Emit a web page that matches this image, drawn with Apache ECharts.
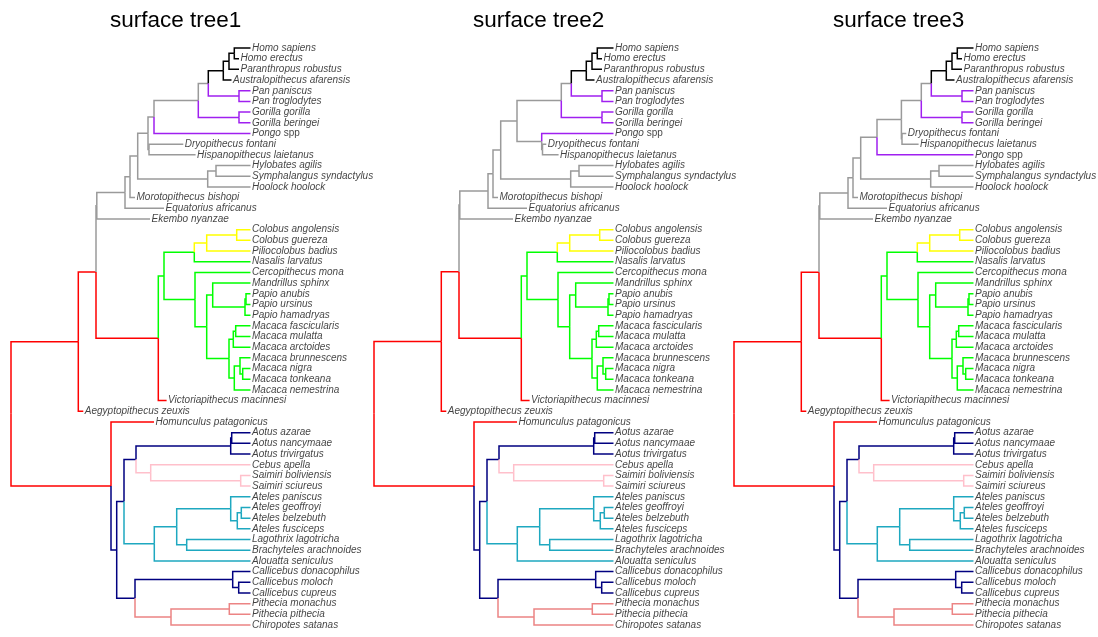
<!DOCTYPE html>
<html><head><meta charset="utf-8">
<script src="https://cdn.jsdelivr.net/npm/echarts/dist/echarts.min.js"></script>
<style>html,body{margin:0;padding:0;background:#fff}#c{width:1098px;height:637px}</style>
</head><body><div id="c"></div><script>
// ---------------- data ----------------
const treeTitles = ["surface tree1", "surface tree2", "surface tree3"];
const extantDepth = 239.5;
// fossil tip depths (distance from root, same units as node depths)
const fossilTipDepth = {
  "Homo erectus": 228, "Paranthropus robustus": 228, "Australopithecus afarensis": 220.5,
  "Dryopithecus fontani": 172.3, "Hispanopithecus laietanus": 184.6,
  "Morotopithecus bishopi": 124, "Equatorius africanus": 153, "Ekembo nyanzae": 139,
  "Victoriapithecus macinnesi": 155.6, "Aegyptopithecus zeuxis": 72.3, "Homunculus patagonicus": 143
};
// internal nodes shared by all trees: [name, depth, children (top to bottom)]
const sharedNodes = [
  ["root", 0, ["n78", "n111"]],
  ["n78", 67.3, ["Catarrhini", "Aegyptopithecus zeuxis"]],
  ["Catarrhini", 85, ["nEkembo", "Cercopithecoidea"]],
  ["nEkembo", 85.8, ["n125", "Ekembo nyanzae"]],
  ["n125", 114, ["n130", "Equatorius africanus"]],
  ["n130", 119, ["Hominoidea", "Morotopithecus bishopi"]],
  ["Hominoidea", 126.7, ["GreatApes", "Hylobatidae"]],
  ["Hylobatidae", 196.7, ["nHylSym", "Hoolock hoolock"]],
  ["nHylSym", 205, ["Hylobates agilis", "Symphalangus syndactylus"]],
  ["Homininae", 187.3, ["nHP", "Gorilla"]],
  ["nHP", 197.3, ["Hominini", "Pan"]],
  ["Hominini", 212.3, ["nHHP", "Australopithecus afarensis"]],
  ["nHHP", 218, ["Homo", "Paranthropus robustus"]],
  ["Homo", 223.3, ["Homo sapiens", "Homo erectus"]],
  ["Pan", 228, ["Pan paniscus", "Pan troglodytes"]],
  ["Gorilla", 228, ["Gorilla gorilla", "Gorilla beringei"]],
  ["Cercopithecoidea", 147.3, ["Cercopithecidae", "Victoriapithecus macinnesi"]],
  ["Cercopithecidae", 153, ["Colobinae", "Cercopithecinae"]],
  ["Colobinae", 183.3, ["nColPil", "Nasalis larvatus"]],
  ["nColPil", 195.7, ["Colobus", "Piliocolobus badius"]],
  ["Colobus", 225.7, ["Colobus angolensis", "Colobus guereza"]],
  ["Cercopithecinae", 184, ["Cercopithecus mona", "Papionini"]],
  ["Papionini", 195.7, ["nMandPapio", "Macaca"]],
  ["nMandPapio", 201.7, ["Mandrillus sphinx", "Papio"]],
  ["Papio", 234, ["nPapio", "Papio hamadryas"]],
  ["nPapio", 235, ["Papio anubis", "Papio ursinus"]],
  ["Macaca", 218, ["nMac1", "nMac2"]],
  ["nMac1", 222.3, ["nMacFM", "Macaca arctoides"]],
  ["nMacFM", 224.7, ["Macaca fascicularis", "Macaca mulatta"]],
  ["nMac2", 223.3, ["nMacBNT", "Macaca nemestrina"]],
  ["nMacBNT", 229, ["Macaca brunnescens", "nMacNT"]],
  ["nMacNT", 231.7, ["Macaca nigra", "Macaca tonkeana"]],
  ["n111", 100, ["Homunculus patagonicus", "Platyrrhini"]],
  ["Platyrrhini", 105.7, ["nCebAtel", "Pitheciidae"]],
  ["nCebAtel", 113, ["Cebidae", "Atelidae"]],
  ["Cebidae", 125, ["Aotus", "Cebinae"]],
  ["Aotus", 219.7, ["nAotus", "Aotus trivirgatus"]],
  ["nAotus", 220.7, ["Aotus azarae", "Aotus nancymaae"]],
  ["Cebinae", 139.7, ["Cebus apella", "Saimiri"]],
  ["Saimiri", 229.7, ["Saimiri boliviensis", "Saimiri sciureus"]],
  ["Atelidae", 143.3, ["Atelinae", "Alouatta seniculus"]],
  ["Atelinae", 165.7, ["Ateles", "nLagoBrachy"]],
  ["nLagoBrachy", 175.7, ["Lagothrix lagotricha", "Brachyteles arachnoides"]],
  ["Ateles", 219.7, ["Ateles paniscus", "nAteles"]],
  ["nAteles", 226.3, ["nAtelesGB", "Ateles fusciceps"]],
  ["nAtelesGB", 230.3, ["Ateles geoffroyi", "Ateles belzebuth"]],
  ["Pitheciidae", 124, ["Callicebus", "Pitheciinae"]],
  ["Callicebus", 221.7, ["Callicebus donacophilus", "nCallicebus"]],
  ["nCallicebus", 227.7, ["Callicebus moloch", "Callicebus cupreus"]],
  ["Pitheciinae", 160, ["Pithecia", "Chiropotes satanas"]],
  ["Pithecia", 218.3, ["Pithecia monachus", "Pithecia pithecia"]]
];
// great-ape arrangement differs between the three surface trees
const greatApes1 = [
  ["GreatApes", 137, ["Hominidae", "DH"]],
  ["Hominidae", 143, ["Homininae", "Pongo spp"]],
  ["DH", 138, ["Dryopithecus fontani", "Hispanopithecus laietanus"]]
];
const greatApes2 = [
  ["GreatApes", 143, ["Homininae", "PDH"]],
  ["PDH", 167.7, ["Pongo spp", "DH"]],
  ["DH", 168.5, ["Dryopithecus fontani", "Hispanopithecus laietanus"]]
];
const greatApes3 = [
  ["GreatApes", 143, ["HDH", "Pongo spp"]],
  ["HDH", 167.4, ["Homininae", "DH"]],
  ["DH", 168, ["Dryopithecus fontani", "Hispanopithecus laietanus"]]
];
// colour of the edge leading into a clade (inherited by its descendants)
const rootColor = "#ff0000";
const cladeColors = {
  "nEkembo": "#9a9a9a",
  "Hominini": "#000000",
  "Pan": "#a020f0", "Gorilla": "#a020f0", "Pongo spp": "#a020f0",
  "Cercopithecidae": "#00ff00",
  "nColPil": "#ffff00",
  "Platyrrhini": "#000080",
  "Atelidae": "#1ea8c0",
  "Cebinae": "#ffc0cb",
  "Pitheciinae": "#ec8484"
};

// ---------------- layout (ape-style phylogram) ----------------
function layoutTree(nodeList) {
  const nodes = {};
  nodeList.forEach(n => nodes[n[0]] = {depth: n[1], children: n[2]});
  const tips = [], segs = [];
  let tipIdx = 0;
  function depthOf(name) { return nodes[name] ? nodes[name].depth : (fossilTipDepth[name] ?? extantDepth); }
  function yOf(name) {
    if (!nodes[name]) { tipIdx += 1; tips.push([depthOf(name), tipIdx, name]); return tipIdx; }
    const ys = nodes[name].children.map(yOf);
    nodes[name].y = ys.reduce((a, b) => a + b, 0) / ys.length;
    nodes[name].ys = ys;
    return nodes[name].y;
  }
  yOf("root");
  function edges(name, color) {
    const n = nodes[name];
    if (!n) return;
    n.children.forEach((c, i) => {
      const col = cladeColors[c] || color;
      segs.push({value: [n.depth, n.y, n.ys[i], depthOf(c)], color: col});
      edges(c, col);
    });
  }
  edges("root", rootColor);
  return {tips, segs};
}

const trees = [
  layoutTree(sharedNodes.concat(greatApes1)),
  layoutTree(sharedNodes.concat(greatApes2)),
  layoutTree(sharedNodes.concat(greatApes3))
];

// ---------------- chart ----------------
const gridLefts = [11, 374, 734];
const titleLefts = [105, 468, 828];
const fontFam = 'Liberation Sans, Arial, sans-serif';
const chart = echarts.init(document.getElementById('c'), null, {renderer: 'canvas'});
const option = {
  backgroundColor: '#fff',
  animation: false,
  title: treeTitles.map((t, i) => ({
    text: t, left: titleLefts[i], top: 4,
    textStyle: {fontSize: 22.5, fontWeight: 'normal', color: '#000', fontFamily: fontFam}
  })),
  grid: gridLefts.map(l => ({left: l, top: 48, width: extantDepth, height: 577})),
  xAxis: gridLefts.map((l, i) => ({type: 'value', gridIndex: i, min: 0, max: extantDepth, show: false})),
  yAxis: gridLefts.map((l, i) => ({type: 'value', gridIndex: i, min: 1, max: 55, inverse: true, show: false})),
  series: []
};
trees.forEach((tr, i) => {
  const cols = tr.segs.map(s => s.color);
  option.series.push({
    type: 'custom', xAxisIndex: i, yAxisIndex: i, silent: true,
    data: tr.segs.map(s => s.value),
    renderItem: (params, api) => {
      const p0 = api.coord([api.value(0), api.value(1)]);
      const p1 = api.coord([api.value(0), api.value(2)]);
      const p2 = api.coord([api.value(3), api.value(2)]);
      return {type: 'polyline', shape: {points: [p0, p1, p2]},
        style: {stroke: cols[params.dataIndex], lineWidth: 1.5, fill: null, lineJoin: 'miter', lineCap: 'butt'}};
    }
  });
  option.series.push({
    type: 'scatter', xAxisIndex: i, yAxisIndex: i, silent: true,
    symbolSize: 0, data: tr.tips,
    label: {
      show: true, position: 'right', distance: 1.5,
      fontSize: 10, fontStyle: 'italic', color: '#111', fontFamily: fontFam,
      formatter: p => p.value[2] === 'Pongo spp' ? '{i|Pongo} {u|spp}' : p.value[2],
      rich: {
        i: {fontSize: 10, fontStyle: 'italic', color: '#111', fontFamily: fontFam},
        u: {fontSize: 10, fontStyle: 'normal', color: '#111', fontFamily: fontFam}
      }
    }
  });
});
chart.setOption(option);
</script></body></html>
